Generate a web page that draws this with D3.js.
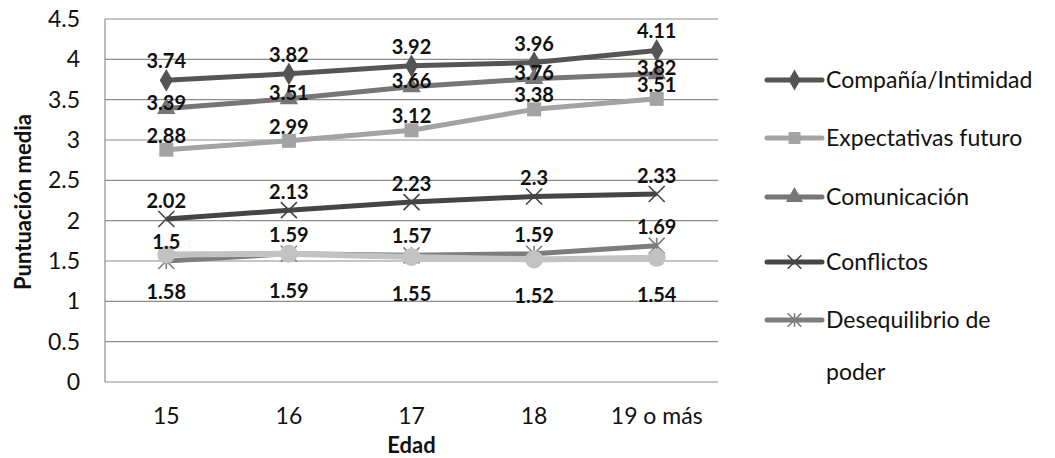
<!DOCTYPE html>
<html><head><meta charset="utf-8">
<script src="https://cdn.jsdelivr.net/npm/d3@7"></script>
<style>body{margin:0;background:#fff;} text{font-family:Lato,"Open Sans",sans-serif;}</style>
</head><body>
<svg id="c" width="1055" height="458"></svg>
<script>
const categories = ["15","16","17","18","19 o más"];
const yTicks = [0,0.5,1,1.5,2,2.5,3,3.5,4,4.5];
const companiaIntimidad = [3.74,3.82,3.92,3.96,4.11];
const expectativasFuturo = [2.88,2.99,3.12,3.38,3.51];
const comunicacion = [3.39,3.51,3.66,3.76,3.82];
const conflictos = [2.02,2.13,2.23,2.3,2.33];
const desequilibrioPoder = [1.5,1.59,1.57,1.59,1.69];
const sextaSerie = [1.58,1.59,1.55,1.52,1.54];

const series = [
  {name:"Compañía/Intimidad", values:companiaIntimidad, color:"#555555", marker:"diamond", width:5, dy:-19, legend:true},
  {name:"Expectativas futuro", values:expectativasFuturo, color:"#a3a3a3", marker:"square", width:5, dy:-14, legend:true},
  {name:"Comunicación", values:comunicacion, color:"#767676", marker:"triangle", width:5, dy:-6, legend:true},
  {name:"Conflictos", values:conflictos, color:"#454545", marker:"x", width:5, dy:-18, legend:true},
  {name:"Desequilibrio de poder", values:desequilibrioPoder, color:"#7d7d7d", marker:"star", width:5, dy:-19, legend:true},
  {name:"", values:sextaSerie, color:"#c2c2c2", marker:"circle", width:6, dy:37, legend:false}
];

const svg = d3.select("#c");
const m = {l:105, r:718, t:19, b:382};
const x = d3.scaleBand().domain(categories).range([m.l, m.r]);
const y = d3.scaleLinear().domain([0,4.5]).range([m.b, m.t]);
const cx = d => x(d) + x.bandwidth()/2;

// gridlines
svg.append("g").selectAll("line").data(yTicks).join("line")
  .attr("x1", m.l).attr("x2", m.r).attr("y1", d=>y(d)).attr("y2", d=>y(d))
  .attr("stroke", "#8c8c8c").attr("stroke-width", 1.2);
svg.append("line").attr("x1", m.l).attr("x2", m.l).attr("y1", m.t).attr("y2", m.b)
  .attr("stroke","#8c8c8c").attr("stroke-width",1.2);

// y tick labels
const yAxis = d3.axisLeft(y).tickValues(yTicks).tickSize(0).tickPadding(25).tickFormat(d3.format("~g"));
const ya = svg.append("g").attr("transform", `translate(${m.l},0)`).call(yAxis);
ya.select(".domain").remove();
ya.selectAll("text").attr("font-size", 23).attr("fill","#111").attr("font-family","Lato, sans-serif");

// x tick labels
const xAxis = d3.axisBottom(x).tickSize(0).tickPadding(26);
const xa = svg.append("g").attr("transform", `translate(0,${m.b})`).call(xAxis);
xa.select(".domain").remove();
xa.selectAll("text").attr("font-size", 23).attr("fill","#111").attr("font-family","Lato, sans-serif");

// axis titles
svg.append("text").attr("x", cx("17")).attr("y", 453).attr("text-anchor","middle")
  .attr("font-size", 22).attr("font-weight","bold").attr("fill","#111").text("Edad");
svg.append("text").attr("transform","translate(31,202) rotate(-90)").attr("text-anchor","middle")
  .attr("font-size", 22).attr("font-weight","bold").attr("fill","#111").text("Puntuación media");

function drawMarker(g, type, color, px, py, s) {
  s = s || 1;
  if (type === "diamond") {
    g.append("path").attr("d", d3.symbol(d3.symbolDiamond, 150*s)()).attr("transform", `translate(${px},${py})`).attr("fill", color);
  } else if (type === "square") {
    g.append("rect").attr("x", px-7*s).attr("y", py-7*s).attr("width", 14*s).attr("height", 14*s).attr("fill", color);
  } else if (type === "triangle") {
    g.append("path").attr("d", d3.symbol(d3.symbolTriangle, 150*s)()).attr("transform", `translate(${px},${py})`).attr("fill", color);
  } else if (type === "x") {
    const r = 8*s;
    g.append("path").attr("d", `M${px-r},${py-r}L${px+r},${py+r}M${px-r},${py+r}L${px+r},${py-r}`).attr("stroke", color).attr("stroke-width", 1.6).attr("fill","none");
  } else if (type === "star") {
    const r = 8*s;
    g.append("path").attr("d", `M${px-r},${py-r}L${px+r},${py+r}M${px-r},${py+r}L${px+r},${py-r}M${px},${py-r}L${px},${py+r}`).attr("stroke", color).attr("stroke-width", 1.6).attr("fill","none");
  } else if (type === "circle") {
    g.append("circle").attr("cx", px).attr("cy", py).attr("r", 9*s).attr("fill", color);
  }
}

const line = d3.line().x((d,i)=>cx(categories[i])).y(d=>y(d));
series.forEach(s => {
  const g = svg.append("g");
  g.append("path").attr("d", line(s.values)).attr("fill","none").attr("stroke", s.color)
    .attr("stroke-width", s.width).attr("stroke-linejoin","round");
  s.values.forEach((v,i) => drawMarker(g, s.marker, s.color, cx(categories[i]), y(v)));
});
series.forEach(s => {
  svg.append("g").selectAll("text").data(s.values).join("text")
    .attr("x", (d,i)=>cx(categories[i])).attr("y", d=>y(d)+s.dy)
    .attr("dy","0.35em").attr("text-anchor","middle")
    .attr("font-size", 20).attr("font-weight","bold").attr("fill","#111")
    .text(d=>d);
});

// legend
const leg = svg.append("g");
const legY = [80, 138, 197, 262, 320];
series.filter(s=>s.legend).forEach((s,i) => {
  const ly = legY[i];
  leg.append("line").attr("x1", 767).attr("x2", 822).attr("y1", ly).attr("y2", ly)
    .attr("stroke", s.color).attr("stroke-width", 5).attr("stroke-linecap","round");
  drawMarker(leg, s.marker, s.color, 794.5, ly, 0.85);
  const t = leg.append("text").attr("x", 826).attr("y", ly).attr("dy","0.35em")
    .attr("font-size", 23).attr("fill","#111");
  if (s.name === "Desequilibrio de poder") {
    t.text("Desequilibrio de");
    leg.append("text").attr("x", 826).attr("y", ly+52).attr("dy","0.35em")
      .attr("font-size", 23).attr("fill","#111").text("poder");
  } else t.text(s.name);
});
</script>
</body></html>
